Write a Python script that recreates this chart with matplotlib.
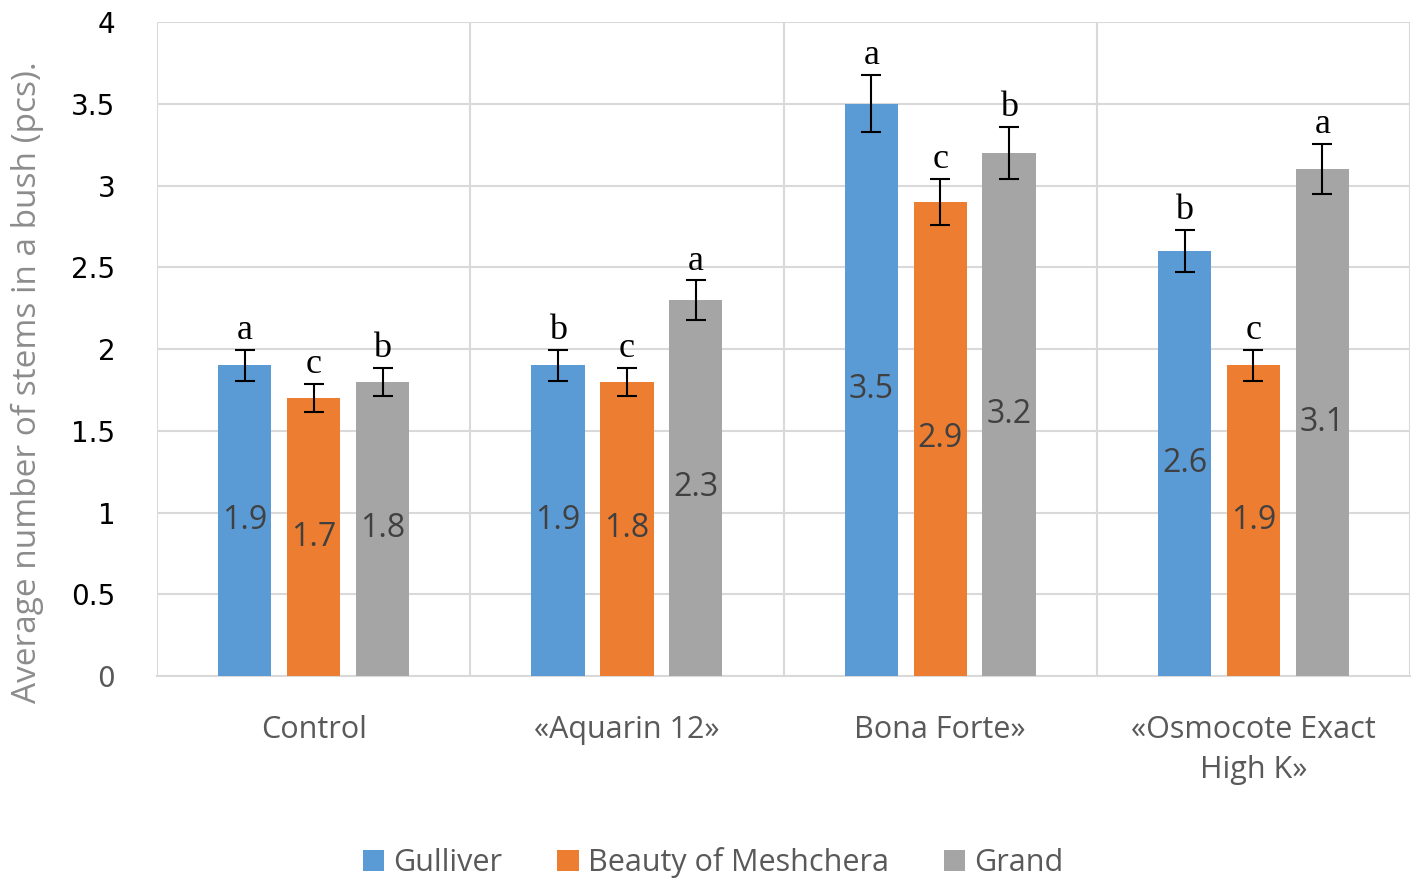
import matplotlib
matplotlib.use("Agg")
from matplotlib import pyplot as plt
import numpy as np

categories = ["Control", "«Aquarin 12»", "Bona Forte»", "«Osmocote Exact\nHigh K»"]
series_names = ["Gulliver", "Beauty of Meshchera", "Grand"]
gulliver = [1.9, 1.9, 3.5, 2.6]
beauty = [1.7, 1.8, 2.9, 1.9]
grand = [1.8, 2.3, 3.2, 3.1]
gulliver_err = [0.095, 0.095, 0.175, 0.13]
beauty_err = [0.085, 0.085, 0.14, 0.095]
grand_err = [0.085, 0.12, 0.16, 0.155]
gulliver_letters = ["a", "b", "a", "b"]
beauty_letters = ["c", "c", "c", "c"]
grand_letters = ["b", "a", "b", "a"]
y_ticks = [0, 0.5, 1, 1.5, 2, 2.5, 3, 3.5, 4]

colors = ["#5B9BD5", "#ED7D31", "#A5A5A5"]
values = [gulliver, beauty, grand]
errs = [gulliver_err, beauty_err, grand_err]
letters = [gulliver_letters, beauty_letters, grand_letters]
offsets = [-0.22, 0.0, 0.22]
width = 0.17

fig = plt.figure(figsize=(14.18, 8.91), dpi=100)
ax = fig.add_axes([0.1107, 0.2413, 0.8837, 0.734])
x = np.arange(len(categories))

for i in range(3):
    xs = x + offsets[i]
    ax.bar(xs, values[i], width, color=colors[i], label=series_names[i], zorder=3)
    ax.errorbar(xs, values[i], yerr=errs[i], fmt="none", ecolor="black",
                elinewidth=1.5, capsize=7.5, capthick=1.5, zorder=4)
    for xx, v, e, l in zip(xs, values[i], errs[i], letters[i]):
        ax.text(xx, v / 2, str(v), ha="center", va="center", fontsize=23,
                color="#404040", family="Open Sans", zorder=5)
        ax.annotate(l, (xx, v + e), xytext=(0, 2), textcoords="offset points",
                    ha="center", va="bottom", fontsize=26,
                    family="Liberation Serif", color="black")

ax.set_xlim(-0.5, 3.5)
ax.set_ylim(0, 4)
ax.set_yticks(y_ticks)
ax.set_yticklabels([("%g" % t) for t in y_ticks], fontsize=20, color="black")
ax.get_yticklabels()[0].set_color("#595959")
ax.set_xticks(x)
ax.set_xticklabels(categories, fontsize=22, color="#595959", family="Open Sans",
                   linespacing=1.45)
ax.tick_params(axis="both", length=0)
ax.tick_params(axis="x", pad=28)
ax.tick_params(axis="y", pad=30)

ax.grid(axis="y", color="#D9D9D9", linewidth=1.5, zorder=0)
for b in np.arange(-0.5, 4.0, 1.0):
    ax.axvline(b, color="#D9D9D9", linewidth=1.5, zorder=0)
for s in ["top", "right", "left"]:
    ax.spines[s].set_visible(False)
ax.spines["bottom"].set_color("#D9D9D9")
ax.spines["bottom"].set_linewidth(1.5)

fig.text(27 / 1418, 1 - 382 / 891, "Average number of stems in a bush (pcs).",
         rotation=90, ha="center", va="center", fontsize=24,
         color="#8C8C8C", family="Open Sans")

leg = fig.legend(loc="center", bbox_to_anchor=(0.503, 0.032), ncol=3,
                 frameon=False, handlelength=0.7, handleheight=0.7,
                 columnspacing=1.8, handletextpad=0.3,
                 prop={"family": "Open Sans", "size": 22})
for t in leg.get_texts():
    t.set_color("#595959")

fig.savefig("out.png", dpi=100)
